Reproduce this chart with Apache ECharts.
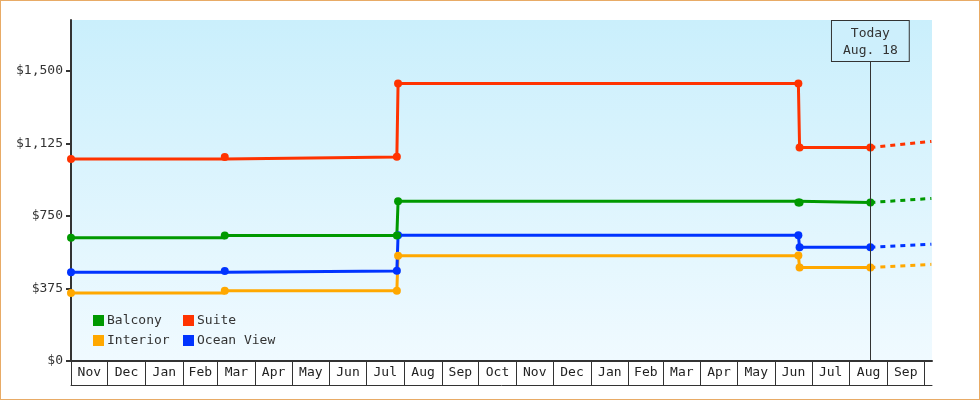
<!DOCTYPE html>
<html>
<head>
<meta charset="utf-8">
<script src="https://cdn.jsdelivr.net/npm/echarts@6/dist/echarts.min.js"></script>
<style>
  html, body { margin: 0; padding: 0; background: #fff; }
  #chart { width: 980px; height: 400px; box-sizing: border-box; border: 1px solid #e8ab66; }
</style>
</head>
<body>
<div id="chart"></div>
<script>
// month labels shown under the axis, one per month band
const monthLabels = ['Nov', 'Dec', 'Jan', 'Feb', 'Mar', 'Apr', 'May', 'Jun', 'Jul', 'Aug', 'Sep', 'Oct',
    'Nov', 'Dec', 'Jan', 'Feb', 'Mar', 'Apr', 'May', 'Jun', 'Jul', 'Aug', 'Sep'];
const yTicks = [0, 375, 750, 1125, 1500];

// price history
const pointDates = ['2021-11-01', '2022-03-07', '2022-07-26', '2022-07-27', '2023-06-20', '2023-06-21', '2023-08-18'];
const balcony = [638, 649, 649, 826, 820, 820, 820];
const suite = [1045, 1055, 1057, 1436, 1436, 1104, 1104];
const oceanView = [459, 466, 467, 650, 650, 588, 588];
const interior = [352, 364, 364, 545, 546, 484, 484];

// projection after today
const forecastDates = ['2023-08-18', '2023-10-07'];
const balconyFc = [820, 841];
const suiteFc = [1104, 1136];
const oceanViewFc = [588, 604];
const interiorFc = [484, 500];

const todayDate = '2023-08-18';

const FONT = "'DejaVu Sans Mono', monospace";

// 'YYYY-MM-DD' -> local timestamp
function ts(s) {
    let p = s.split('-');
    return new Date(+p[0], +p[1] - 1, +p[2]).getTime();
}

const xMin = new Date(2021, 10, 1).getTime();
const xMax = new Date(2023, 9, 7, 12).getTime();

// month boundaries and mid points of each band
let monthStarts = [];
for (let i = 0; i <= monthLabels.length; i++) {
    monthStarts.push(new Date(2021, 10 + i, 1).getTime());
}
let labelPos = [];
for (let i = 0; i < monthLabels.length; i++) {
    labelPos.push(Math.round((monthStarts[i] + monthStarts[i + 1]) / 2));
}

function solid(name, color, values) {
    return {
        name: name,
        type: 'line',
        step: 'end',
        data: pointDates.map((d, i) => [ts(d), values[i]]),
        symbol: 'circle',
        symbolSize: 8,
        lineStyle: { width: 3, color: color },
        itemStyle: { color: color },
        z: 3
    };
}

function dashed(name, color, values) {
    return {
        name: name,
        type: 'line',
        data: forecastDates.map((d, i) => [ts(d), values[i]]),
        showSymbol: false,
        symbol: 'none',
        lineStyle: { width: 3, color: color, type: [5, 5] },
        itemStyle: { color: color },
        z: 2
    };
}

let chart = echarts.init(document.getElementById('chart'));

let legendBase = {
    orient: 'vertical',
    icon: 'rect',
    itemWidth: 11,
    itemHeight: 11,
    itemGap: 7,
    padding: 0,
    selectedMode: false,
    textStyle: { fontFamily: FONT, fontSize: 13, color: '#333', padding: [0, 0, 0, -2] }
};

let option = {
    animation: false,
    textStyle: { fontFamily: FONT },
    grid: {
        left: 70, right: 47, top: 19, bottom: 38,
        show: true,
        borderWidth: 0,
        backgroundColor: {
            type: 'linear', x: 0, y: 0, x2: 0, y2: 1,
            colorStops: [{ offset: 0, color: '#caeffc' }, { offset: 1, color: '#f0faff' }]
        }
    },
    legend: [
        Object.assign({ data: ['Balcony', 'Interior'], left: 92, top: 313 }, legendBase),
        Object.assign({ data: ['Suite', 'Ocean View'], left: 182, top: 313 }, legendBase)
    ],
    xAxis: [{
        type: 'value',
        min: xMin,
        max: xMax,
        axisLine: { show: true, lineStyle: { color: '#333', width: 2 } },
        axisTick: { show: true, customValues: monthStarts, length: 24, lineStyle: { color: '#333', width: 1 } },
        axisLabel: {
            customValues: labelPos,
            margin: 5,
            fontFamily: FONT,
            fontSize: 13,
            color: '#222',
            formatter: (v) => monthLabels[labelPos.indexOf(v)]
        },
        splitLine: { show: false }
    }, {
        type: 'value',
        min: xMin,
        max: xMax,
        position: 'bottom',
        offset: 24,
        axisLine: { show: true, lineStyle: { color: '#333', width: 1 } },
        axisTick: { show: false },
        axisLabel: { show: false },
        splitLine: { show: false }
    }],
    yAxis: {
        type: 'value',
        min: 0,
        max: 1764,
        axisLine: { show: true, lineStyle: { color: '#333', width: 2 } },
        axisTick: { show: true, customValues: yTicks, length: 5, lineStyle: { color: '#333', width: 2 } },
        axisLabel: {
            customValues: yTicks,
            margin: 8,
            fontFamily: FONT,
            fontSize: 13,
            color: '#333',
            formatter: (v) => '$' + v.toLocaleString('en-US')
        },
        splitLine: { show: false }
    },
    series: [
        dashed('Interior', '#ffa800', interiorFc),
        dashed('Ocean View', '#0033ff', oceanViewFc),
        dashed('Balcony', '#009900', balconyFc),
        dashed('Suite', '#ff3300', suiteFc),
        solid('Interior', '#ffa800', interior),
        solid('Ocean View', '#0033ff', oceanView),
        Object.assign(solid('Balcony', '#009900', balcony), {
            markLine: {
                silent: true,
                symbol: ['none', 'none'],
                lineStyle: { color: '#333', width: 1, type: 'solid' },
                label: {
                    show: true,
                    position: 'end',
                    distance: 0,
                    formatter: 'Today\nAug. 18',
                    fontFamily: FONT,
                    fontSize: 13,
                    lineHeight: 17,
                    color: '#333',
                    align: 'center',
                    padding: [4, 11, 2, 11],
                    borderColor: '#333',
                    borderWidth: 1,
                    backgroundColor: '#cdeffc'
                },
                data: [[{ coord: [ts(todayDate), 0] }, { coord: [ts(todayDate), 1552] }]]
            }
        }),
        solid('Suite', '#ff3300', suite)
    ]
};

chart.setOption(option);
</script>
</body>
</html>
